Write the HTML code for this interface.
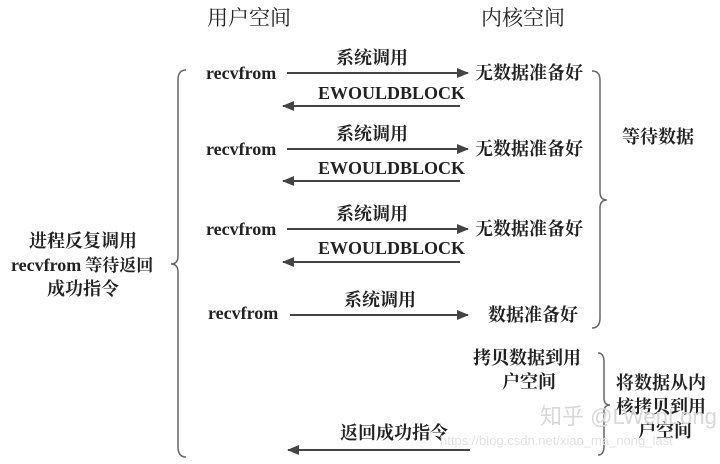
<!DOCTYPE html>
<html><head><meta charset="utf-8"><style>
html,body{margin:0;padding:0;background:#fff;}
svg text{font-family:"Liberation Serif","Noto Serif CJK SC",serif;fill:#222;}
.b{font-weight:bold;font-size:18px;}
.c{font-size:18px;font-weight:bold;}
.t{font-size:21px;}
</style></head><body>
<svg width="720" height="459" viewBox="0 0 720 459" xmlns="http://www.w3.org/2000/svg">
<defs><marker id="a" markerWidth="12" markerHeight="10" refX="11" refY="5" orient="auto" markerUnits="userSpaceOnUse"><path d="M0,0 L12,5 L0,10 Z" fill="#444"/></marker></defs>
<text class="t" x="207" y="25">用户空间</text>
<text class="t" x="481" y="25">内核空间</text>
<g stroke="#444" stroke-width="2" fill="none">
<line x1="287" y1="73" x2="468" y2="73" marker-end="url(#a)"/>
<line x1="460" y1="106" x2="283" y2="106" marker-end="url(#a)"/>
<line x1="287" y1="149" x2="468" y2="149" marker-end="url(#a)"/>
<line x1="460" y1="181" x2="283" y2="181" marker-end="url(#a)"/>
<line x1="287" y1="229" x2="468" y2="229" marker-end="url(#a)"/>
<line x1="460" y1="262" x2="283" y2="262" marker-end="url(#a)"/>
<line x1="290" y1="315" x2="468" y2="315" marker-end="url(#a)"/>
<line x1="470" y1="450" x2="288" y2="450" marker-end="url(#a)"/>
</g>
<g stroke="#666" stroke-width="1.5" fill="none">
<path d="M186,70 Q178,70 178,80 L178,256 Q178,264 171,264 Q178,264 178,272 L178,447 Q178,457 186,457"/>
<path d="M592,71 Q600,71 600,80 L600,192 Q600,200 607,200 Q600,200 600,208 L600,318 Q600,328 592,328"/>
<path d="M598,353 Q604,353 604,362 L604,398 Q604,405 610,405 Q604,405 604,412 L604,446 Q604,455 598,455"/>
</g>
<text class="b" x="206" y="79">recvfrom</text>
<text class="b" x="206" y="155">recvfrom</text>
<text class="b" x="206" y="235">recvfrom</text>
<text class="b" x="208" y="319">recvfrom</text>
<text class="c" x="336" y="64">系统调用</text>
<text class="c" x="336" y="140">系统调用</text>
<text class="c" x="336" y="220">系统调用</text>
<text class="c" x="344" y="306">系统调用</text>
<text class="b" x="318" y="99">EWOULDBLOCK</text>
<text class="b" x="318" y="174">EWOULDBLOCK</text>
<text class="b" x="318" y="254">EWOULDBLOCK</text>
<text class="c" x="475" y="79">无数据准备好</text>
<text class="c" x="475" y="155">无数据准备好</text>
<text class="c" x="475" y="235">无数据准备好</text>
<text class="c" x="488" y="321">数据准备好</text>
<text class="c" x="473" y="364">拷贝数据到用</text>
<text class="c" x="502" y="388">户空间</text>
<text class="c" x="340" y="439">返回成功指令</text>
<text class="c" x="622" y="143">等待数据</text>
<text class="c" x="616" y="389">将数据从内</text>
<text class="c" x="616" y="413">核拷贝到用</text>
<text class="c" x="638" y="437">户空间</text>
<text class="c" x="29" y="247">进程反复调用</text>
<text x="11" y="271"><tspan font-weight="bold" font-size="18">recvfrom</tspan><tspan font-weight="bold" font-size="17" dx="4">等待返回</tspan></text>
<text class="c" x="47" y="295">成功指令</text>
<text x="540" y="424" style="font-size:22px;fill:#d8d8d8;font-family:'Liberation Sans','Noto Sans CJK SC',sans-serif">知乎 @LWenLong</text>
<text x="440" y="445" style="font-size:13px;fill:#e2e2e2;font-family:'Liberation Sans',sans-serif">https://blog.csdn.net/xiao_ma_nong_last</text>
</svg>
</body></html>
